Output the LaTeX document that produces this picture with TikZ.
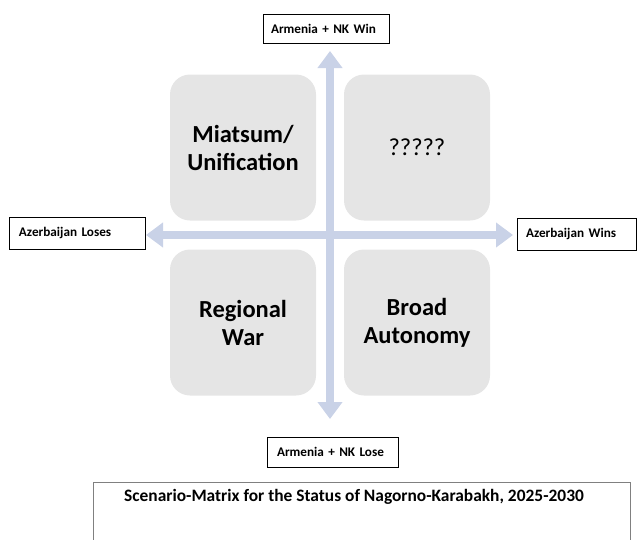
\documentclass[tikz,border=0pt]{standalone}
\usepackage{fontspec}
\setmainfont{Carlito}
\usepackage{xcolor}
\definecolor{axis}{RGB}{201,210,231}
\definecolor{cell}{RGB}{229,229,229}
\definecolor{frame}{RGB}{128,128,128}
\usepackage{tikz}
\usetikzlibrary{arrows.meta}

\begin{document}
\begin{tikzpicture}[x=1pt,y=-1pt]
    \useasboundingbox (0,0) rectangle (637,539);
    \tikzstyle{every node}=[inner sep=0pt]
    \tikzstyle{cell}=[fill=cell,rounded corners=20pt,minimum width=146pt,minimum height=146pt,align=center,font=\fontsize{24.5}{28}\selectfont\bfseries]
    \tikzstyle{tag}=[draw=black,line width=0.8pt,align=left,inner xsep=8pt,minimum height=30pt,font=\fontsize{13.2}{16}\selectfont\bfseries]
    \tikzstyle{axis}=[draw=axis,line width=8pt,{Triangle[width=24pt,length=17pt]}-{Triangle[width=24pt,length=17pt]}]

    % the four scenarios
    \node[cell] (miatsum) at (243,147.5) {Miatsum/\\Unification};
    \node[cell,font=\fontsize{24.5}{28}\selectfont] (open) at (417,147.5) {?????};
    \node[cell] (war) at (243,322.5) {Regional\\War};
    \node[cell] (autonomy) at (417,322.5) {Broad\\Autonomy};

    % axes
    \coordinate (up) at (330,51);
    \coordinate (down) at (330,419);
    \coordinate (left) at (146,235);
    \coordinate (right) at (513,235);
    \draw[axis] (down) -- (up);
    \draw[axis] (left) -- (right);

    % axis labels
    \node[tag,text width=110pt,minimum height=29pt] (win) at (326,29) {Armenia + NK Win};
    \node[tag,inner xsep=10pt,text width=116pt,minimum height=32pt] (loses) at (77,233) {Azerbaijan Loses};
    \node[tag,inner xsep=9pt,text width=101pt,minimum height=32pt] (wins) at (576.5,234) {Azerbaijan Wins};
    \node[tag,inner xsep=10pt,text width=111pt,minimum height=30pt] (lose) at (332.5,452) {Armenia + NK Lose};

    % caption
    \draw[frame,line width=0.8pt] (93,540) -- (93,482) -- (630,482) -- (630,540);
    \node[font=\fontsize{17.4}{20}\selectfont\bfseries] (title) at (354,497) {Scenario-Matrix for the Status of Nagorno-Karabakh, 2025-2030};
\end{tikzpicture}
\end{document}
